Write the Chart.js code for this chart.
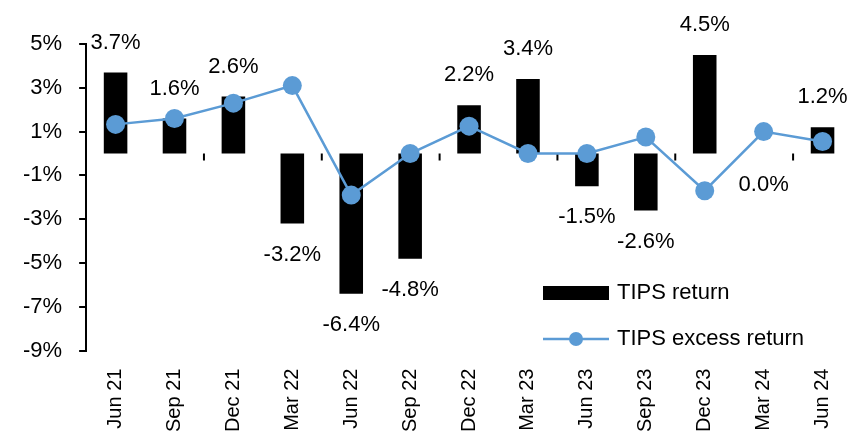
<!DOCTYPE html>
<html>
<head>
<meta charset="utf-8">
<script src="https://cdn.jsdelivr.net/npm/chart.js@4.4.1/dist/chart.umd.min.js"></script>
<style>
  html, body { margin: 0; padding: 0; background: #fff; overflow: hidden; }
  #wrap { width: 852px; height: 442px; }
</style>
</head>
<body>
<div id="wrap"><canvas id="chart"></canvas></div>
<script>
// TIPS quarterly returns, Jun 21 - Jun 24 (%)
const quarters = ['Jun 21', 'Sep 21', 'Dec 21', 'Mar 22', 'Jun 22', 'Sep 22', 'Dec 22',
                  'Mar 23', 'Jun 23', 'Sep 23', 'Dec 23', 'Mar 24', 'Jun 24'];
const tipsReturn = [3.7, 1.6, 2.6, -3.2, -6.4, -4.8, 2.2, 3.4, -1.5, -2.6, 4.5, 0.0, 1.2];
const tipsExcess = [1.33, 1.6, 2.3, 3.1, -1.9, 0.0, 1.25, 0.0, 0.0, 0.75, -1.7, 1.0, 0.55];
const yMin = -9, yMax = 5, yStep = 2;

const BLUE = '#5b9bd5';
const FONT = '"Liberation Sans", Arial, sans-serif';

/* ── value labels at the bar ends ─────────────── */
const barLabels = {
  id: 'barLabels',
  afterDatasetsDraw(chart) {
    const { ctx } = chart;
    const meta = chart.getDatasetMeta(1); // bar dataset
    ctx.save();
    ctx.font = '22px ' + FONT;
    ctx.fillStyle = '#000';
    ctx.textAlign = 'center';
    ctx.textBaseline = 'middle';
    meta.data.forEach((bar, i) => {
      const v = tipsReturn[i];
      const y = v > 0 ? bar.y - 30 : bar.y + 31;
      ctx.fillText(v.toFixed(1) + '%', bar.x, y);
    });
    ctx.restore();
  },
};

/* ── tick marks hanging off the zero line ──────── */
const zeroTicks = {
  id: 'zeroTicks',
  beforeDatasetsDraw(chart) {
    const { ctx, scales: { x, y } } = chart;
    const y0 = y.getPixelForValue(0);
    ctx.save();
    ctx.strokeStyle = '#000';
    ctx.lineWidth = 2;
    for (let i = 1; i < quarters.length - 1; i += 2) {
      const xb = (x.getPixelForValue(i) + x.getPixelForValue(i + 1)) / 2;
      ctx.beginPath();
      ctx.moveTo(xb, y0);
      ctx.lineTo(xb, y0 + 7);
      ctx.stroke();
    }
    ctx.restore();
  },
};

/* ── legend inside the plot, lower right ───────── */
const innerLegend = {
  id: 'innerLegend',
  afterDraw(chart) {
    const { ctx } = chart;
    const x0 = 543, y1 = 293, y2 = 339;
    ctx.save();
    ctx.font = '22px ' + FONT;
    ctx.fillStyle = '#000';
    ctx.textBaseline = 'middle';
    ctx.fillRect(x0, y1 - 7, 66, 14);
    ctx.fillText('TIPS return', 617, y1);
    ctx.strokeStyle = BLUE;
    ctx.lineWidth = 2.5;
    ctx.beginPath();
    ctx.moveTo(x0, y2);
    ctx.lineTo(x0 + 66, y2);
    ctx.stroke();
    ctx.fillStyle = BLUE;
    ctx.beginPath();
    ctx.arc(x0 + 33, y2, 7, 0, Math.PI * 2);
    ctx.fill();
    ctx.fillStyle = '#000';
    ctx.fillText('TIPS excess return', 617, y2);
    ctx.restore();
  },
};

new Chart(document.getElementById('chart'), {
  data: {
    labels: quarters,
    datasets: [
      {
        type: 'line',
        label: 'TIPS excess return',
        data: tipsExcess,
        borderColor: BLUE,
        backgroundColor: BLUE,
        borderWidth: 2.5,
        pointRadius: 9.5,
        pointHoverRadius: 9.5,
        pointBorderWidth: 0,
        tension: 0,
        order: 0,
      },
      {
        type: 'bar',
        label: 'TIPS return',
        data: tipsReturn,
        backgroundColor: '#000',
        barPercentage: 0.4,
        categoryPercentage: 1,
        order: 1,
      },
    ],
  },
  options: {
    responsive: true,
    maintainAspectRatio: false,
    animation: false,
    layout: { autoPadding: false, padding: { top: 44, left: 6, right: 0, bottom: -8 } },
    plugins: { legend: { display: false }, tooltip: { enabled: false } },
    scales: {
      x: {
        offset: true,
        afterFit: s => { s.paddingRight = 0; }, // plot runs to the right edge
        grid: { display: false, drawTicks: false },
        border: { display: false },
        ticks: {
          color: '#000',
          font: { family: FONT, size: 20 },
          minRotation: 90,
          maxRotation: 90,
          padding: 18,
          autoSkip: false,
        },
      },
      y: {
        min: yMin,
        max: yMax,
        grid: {
          color: c => (c.tick && c.tick.value === 0 ? '#000' : 'transparent'),
          lineWidth: 2,
          tickColor: '#000',
          tickWidth: 2,
          tickLength: 7,
        },
        border: { color: '#000', width: 2 },
        ticks: {
          stepSize: yStep,
          color: '#000',
          font: { family: FONT, size: 22 },
          padding: 17,
          callback: v => v + '%',
        },
      },
    },
  },
  plugins: [zeroTicks, barLabels, innerLegend],
});
</script>
</body>
</html>
